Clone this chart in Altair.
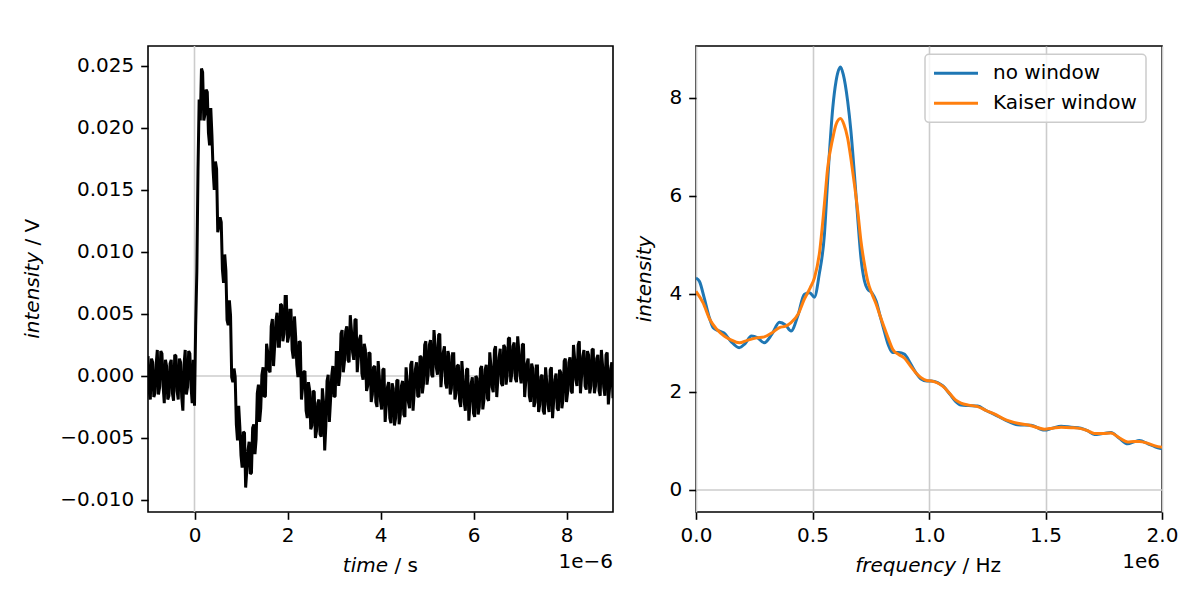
import altair as alt
import pandas as pd

# ---------------- data ----------------
# time axis in microseconds (offset label 1e-6): samples every 0.05 us from -1 to 9 ...
time_us = [round(-1.0 + 0.05 * i, 2) for i in range(201)]
# ... and the samples in between them
mid_time_us = [round(-0.975 + 0.05 * i, 3) for i in range(200)]

signal_mV = [
    1.6, -1.9, 1.1, -1.4, 2.1, -0.9, 1.8, -2.2, 0.8, -1.6, 1.3, -2.0,
    1.6, -1.9, 1.1, -2.8, 2.1, -0.9, 1.8, -2.2, -2.4,
    8.4, 22.3, 24.8, 20.6, 23.1, 19.6, 21.6, 16.6, 17.3, 11.6,
    12.8, 8.6, 9.8, 4.5, 6.1, -0.1, 0.6, -3.9, -2.4, -6.4,
    -4.5, -9.0, -6.0, -7.9, -4.2, -6.3, -1.4, -3.7, 0.1, -1.7,
    2.6, 0.5, 4.0, 0.8, 4.4, 2.4, 5.8, 2.8, 6.4, 2.7,
    5.3, 2.1, 4.8, 0.9, 2.8, -1.9, 0.3, -2.8, -0.5, -4.3,
    -1.2, -5.0, -2.2, -4.7, -1.0, -6.0, -0.4, -3.7, 0.0, -1.7,
    1.9, -0.8, 3.4, 0.3, 3.6, 1.3, 4.9, 1.9, 4.5, 0.3,
    3.0, 0.2, 2.6, -1.2, 1.9, -2.1, 0.7, -2.1, 1.2, -2.0,
    0.5, -3.7, -0.9, -3.4, -0.6, -4.0, -0.4, -3.9, -0.8, -3.1,
    0.7, -2.1, 0.9, -2.8, 0.5, -1.6, 1.6, -1.4, 2.5, -0.7,
    2.5, 0.1, 3.7, 0.7, 3.3, -0.9, 1.9, -0.6, 2.0, -1.5,
    1.8, -1.9, 0.8, -2.0, 1.2, -2.1, 0.5, -3.6, -0.6, -3.0,
    0.0, -3.1, 0.6, -2.7, 0.5, -1.8, 1.9, -0.9, 2.1, -1.7,
    1.5, -0.6, 2.5, -0.7, 3.0, -0.5, 2.4, -0.2, 3.2, 0.1,
    2.5, -1.7, 1.0, -1.6, 1.0, -2.5, 0.8, -2.9, -0.1, -2.8,
    0.7, -2.3, 0.5, -3.4, -0.3, -2.6, 0.5, -2.6, 1.2, -2.1,
    1.1, -1.2, 2.5, -0.3, 2.5, -1.4, 1.6, -0.8, 2.0, -1.4,
    2.1, -1.4, 1.4, -1.2, 2.1, -0.9, 1.7, -2.3, 0.6, -1.8,
]
mid_signal_mV = [
    -1.2, 1.4, -1.7, 0.9, -1.5, 2.0, -0.8, 1.3, -1.9, 1.0,
    -1.4, 1.7, -1.2, 1.4, -1.7, 0.9, -1.5, 2.0, -0.8, 1.3,
    4.0, 16.5, 20.6, 24.5, 21.1, 22.9, 18.6, 19.4, 15.0, 16.7,
    12.1, 12.4, 7.5, 8.5, 4.1, 4.9, -0.5, -0.1, -5.2, -4.1,
    -7.4, -4.6, -7.6, -5.3, -7.8, -3.9, -5.1, -0.7, -2.6, 0.7,
    -1.6, 1.9, 0.3, 4.6, 2.5, 5.1, 2.4, 5.7, 3.4, 6.4,
    3.2, 5.3, 1.4, 3.2, -0.1, 2.7, -0.9, 0.4, -3.4, -1.1,
    -4.0, -1.3, -4.4, -1.9, -4.9, -2.1, -4.0, 0.1, -2.0, 0.8,
    -1.6, 1.9, 0.1, 3.7, 1.2, 4.0, 1.1, 3.7, 1.3, 4.6,
    1.6, 3.3, -0.3, 2.1, -0.8, 1.8, -1.5, 0.8, -2.5, -0.1,
    -2.7, 0.6, -2.4, -0.5, -3.8, -1.0, -3.4, -0.3, -3.2, -0.4,
    -3.3, -0.4, -2.6, 1.2, -1.3, 1.1, -1.7, 1.5, -0.6, 2.8,
    0.1, 2.9, -0.1, 2.5, 0.1, 3.4, 0.4, 2.4, -1.0, 1.6,
    -1.0, 1.8, -1.4, 0.9, -2.5, -0.2, -2.8, 0.6, -2.2, -0.1,
    -3.3, -0.2, -2.5, 0.8, -1.9, 0.9, -2.0, 0.8, -1.3, 2.4,
    -0.2, 2.2, -0.8, 2.3, 0.0, 3.1, 0.2, 2.7, -0.5, 2.0,
    -0.6, 2.6, -0.4, 1.4, -2.1, 0.6, -2.1, 0.8, -2.3, 0.1,
    -3.1, -0.5, -2.9, 0.7, -2.0, 0.2, -2.8, 0.3, -1.9, 1.4,
    -1.3, 1.5, -1.4, 1.4, -0.8, 2.8, 0.0, 2.1, -1.1, 1.7,
    -0.8, 2.2, -0.8, 1.7, -1.6, 0.9, -1.6, 1.9, -1.0, 1.1,
]

# spectra, frequency in MHz (offset label 1e6)
nowin_f = [0.000, 0.015, 0.035, 0.055, 0.075, 0.095, 0.12, 0.15, 0.185, 0.21, 0.238, 0.265,
           0.293, 0.325, 0.358, 0.385, 0.408, 0.437, 0.465, 0.488, 0.508, 0.529, 0.551,
           0.565, 0.587, 0.601, 0.62, 0.632, 0.651, 0.665, 0.68, 0.694, 0.708, 0.723,
           0.737, 0.755, 0.773, 0.79, 0.808, 0.826, 0.844, 0.87, 0.894, 0.92, 0.945,
           0.966, 0.99, 1.01, 1.037, 1.06, 1.09, 1.115, 1.137, 1.17, 1.209, 1.245, 1.28,
           1.33, 1.38, 1.438, 1.495, 1.53, 1.567, 1.61, 1.652, 1.68, 1.71, 1.745, 1.781,
           1.815, 1.853, 1.88, 1.903, 1.94, 1.97, 2.0]
nowin_v = [4.32, 4.25, 3.92, 3.55, 3.30, 3.25, 3.20, 3.03, 2.90, 2.98, 3.14, 3.10,
           3.00, 3.17, 3.42, 3.36, 3.24, 3.55, 3.99, 4.02, 3.93, 4.40, 5.20,
           6.30, 7.79, 8.33, 8.62, 8.47, 7.92, 7.31, 6.43, 5.55, 4.73, 4.26,
           4.09, 4.02, 3.85, 3.55, 3.24, 2.95, 2.80, 2.80, 2.77, 2.58, 2.38,
           2.26, 2.22, 2.22, 2.19, 2.12, 1.95, 1.80, 1.73, 1.72, 1.71, 1.62, 1.54,
           1.42, 1.33, 1.32, 1.22, 1.26, 1.30, 1.28, 1.26, 1.21, 1.13, 1.15, 1.17,
           1.06, 0.94, 0.98, 1.01, 0.94, 0.88, 0.84]

kaiser_f = [0.0, 0.03, 0.06, 0.09, 0.121, 0.15, 0.186, 0.22, 0.26, 0.293, 0.325, 0.358,
            0.385, 0.408, 0.44, 0.465, 0.49, 0.508, 0.529, 0.551, 0.565, 0.587, 0.601,
            0.62, 0.635, 0.651, 0.665, 0.68, 0.695, 0.708, 0.723, 0.737, 0.755, 0.773,
            0.79, 0.808, 0.826, 0.844, 0.87, 0.894, 0.92, 0.945, 0.966, 0.99, 1.01,
            1.037, 1.06, 1.09, 1.115, 1.137, 1.17, 1.209, 1.245, 1.28, 1.33, 1.38,
            1.438, 1.495, 1.53, 1.567, 1.61, 1.652, 1.68, 1.71, 1.745, 1.781, 1.815,
            1.853, 1.88, 1.903, 1.94, 1.97, 2.0]
kaiser_v = [4.05, 3.82, 3.47, 3.27, 3.14, 3.06, 3.00, 3.05, 3.10, 3.12, 3.20, 3.31,
            3.34, 3.41, 3.60, 3.89, 4.12, 4.32, 4.80, 5.82, 6.56, 7.17, 7.45,
            7.57, 7.45, 7.17, 6.75, 6.23, 5.65, 5.07, 4.60, 4.26, 4.00, 3.79,
            3.55, 3.31, 3.08, 2.87, 2.76, 2.69, 2.53, 2.38, 2.29, 2.23, 2.22,
            2.18, 2.11, 1.96, 1.83, 1.77, 1.73, 1.70, 1.62, 1.55, 1.43, 1.36,
            1.31, 1.24, 1.26, 1.28, 1.27, 1.25, 1.21, 1.15, 1.15, 1.16, 1.07,
            0.98, 0.99, 0.99, 0.95, 0.90, 0.87]

series_names = ["no window", "Kaiser window"]
series_colors = ["#1f77b4", "#ff7f0e"]

time_ticks = [0, 2, 4, 6, 8]
volt_ticks = [-0.010, -0.005, 0.0, 0.005, 0.010, 0.015, 0.020, 0.025]
freq_ticks = [0.0, 0.5, 1.0, 1.5, 2.0]
inten_ticks = [0, 2, 4, 6, 8]

# ---------------- tables ----------------
sig_df = pd.DataFrame({
    "t": time_us + mid_time_us,
    "v": [m / 1000.0 for m in signal_mV + mid_signal_mV],
}).sort_values("t").reset_index(drop=True)
sig_df["k"] = range(len(sig_df))

spec_df = pd.concat([
    pd.DataFrame({"f": nowin_f, "a": nowin_v, "series": series_names[0], "order": 0}),
    pd.DataFrame({"f": kaiser_f, "a": kaiser_v, "series": series_names[1], "order": 1}),
], ignore_index=True)

W, H = 465, 466
FONT = "DejaVu Sans"
GRID = "#cccccc"


def label(text, x, y, angle=0, align="center", baseline="alphabetic", italic=False):
    return alt.Chart(pd.DataFrame({"s": [text]})).mark_text(
        x=x, y=y, angle=angle, align=align, baseline=baseline, font=FONT,
        fontSize=20, fontStyle="italic" if italic else "normal", color="black"
    ).encode(text="s:N")


# ---------------- left panel ----------------
tx = alt.X("t:Q", scale=alt.Scale(domain=[-1, 9], nice=False, zero=False),
           axis=alt.Axis(values=time_ticks, format="d", title=None, grid=False))
vy = alt.Y("v:Q", scale=alt.Scale(domain=[-0.01097, 0.02661], nice=False, zero=False),
           axis=alt.Axis(values=volt_ticks, format=".3f", title=None, grid=False))

zero_t = alt.Chart(pd.DataFrame({"t": [0.0]})).mark_rule(color=GRID, strokeWidth=1.6).encode(x=alt.X("t:Q"))
zero_v = alt.Chart(pd.DataFrame({"v": [0.0]})).mark_rule(color=GRID, strokeWidth=1.6).encode(y=alt.Y("v:Q"))
sig_line = alt.Chart(sig_df).mark_line(color="black", strokeWidth=3, strokeJoin="miter",
                                       strokeMiterLimit=2, clip=True).encode(
    x=tx, y=vy, order=alt.Order("k:Q"))

left = alt.layer(
    zero_t, zero_v, sig_line,
    label("intensity", -115, 206, angle=270, align="right", baseline="middle", italic=True),
    label("/ V", -115, 199.6, angle=270, align="left", baseline="middle"),
    label("time", 240, 526, align="right", italic=True),
    label("/ s", 246.4, 526, align="left"),
    label("1e\u22126", 465, 521.7, align="right"),
).properties(width=W, height=H)

# ---------------- right panel ----------------
fx = alt.X("f:Q", scale=alt.Scale(domain=[0, 2], nice=False, zero=False),
           axis=alt.Axis(values=freq_ticks, format=".1f", title=None, grid=True,
                         gridColor=GRID, gridWidth=1.6))
ay = alt.Y("a:Q", scale=alt.Scale(domain=[-0.449, 9.05], nice=False, zero=False),
           axis=alt.Axis(values=inten_ticks, format="d", title=None, grid=False))

zero_a = alt.Chart(pd.DataFrame({"a": [0.0]})).mark_rule(color=GRID, strokeWidth=1.6).encode(y=alt.Y("a:Q"))
spec_lines = alt.Chart(spec_df).mark_line(strokeWidth=3, interpolate="monotone", clip=True).encode(
    x=fx, y=ay,
    color=alt.Color("series:N",
                    scale=alt.Scale(domain=series_names, range=series_colors),
                    sort=series_names,
                    legend=alt.Legend(
                        title=None, orient="none", legendX=229, legendY=8.3,
                        symbolType="M-2.75,0H2.75", symbolSize=256, symbolStrokeWidth=3,
                        symbolOffset=12, labelOffset=27, labelFontSize=20, labelFont=FONT,
                        labelColor="black", rowPadding=10, padding=9, labelLimit=400,
                        strokeColor=GRID, fillColor="rgba(255,255,255,0.8)", cornerRadius=4)),
    order=alt.Order("order:Q"),
    detail="series:N",
)

right = alt.layer(
    zero_a, spec_lines,
    label("intensity", -51, 233, angle=270, align="center", baseline="middle", italic=True),
    label("frequency", 260, 526, align="right", italic=True),
    label("/ Hz", 266.4, 526, align="left"),
    label("1e6", 464, 521.7, align="right"),
).properties(width=W + 1, height=H)

chart = alt.hconcat(left, right, spacing=83, bounds="flush").resolve_scale(
    color="independent"
).properties(
    padding={"left": 14, "top": 36, "right": 10, "bottom": 10},
    background="white",
).configure_view(
    stroke="black", strokeWidth=1.6
).configure_axis(
    labelFont=FONT, labelFontSize=20, labelColor="black", tickColor="black",
    tickWidth=1.6, tickSize=7.3, domain=False, labelFlush=False, labelOverlap=False,
    labelBound=False
).configure_axisX(
    labelPadding=22.4, labelBaseline="alphabetic"
).configure_axisY(
    labelPadding=7, labelBaseline="middle"
).configure_legend(
    strokeWidth=1.5
)

chart.save("out.html", embed_options={"renderer": "svg", "actions": False})
